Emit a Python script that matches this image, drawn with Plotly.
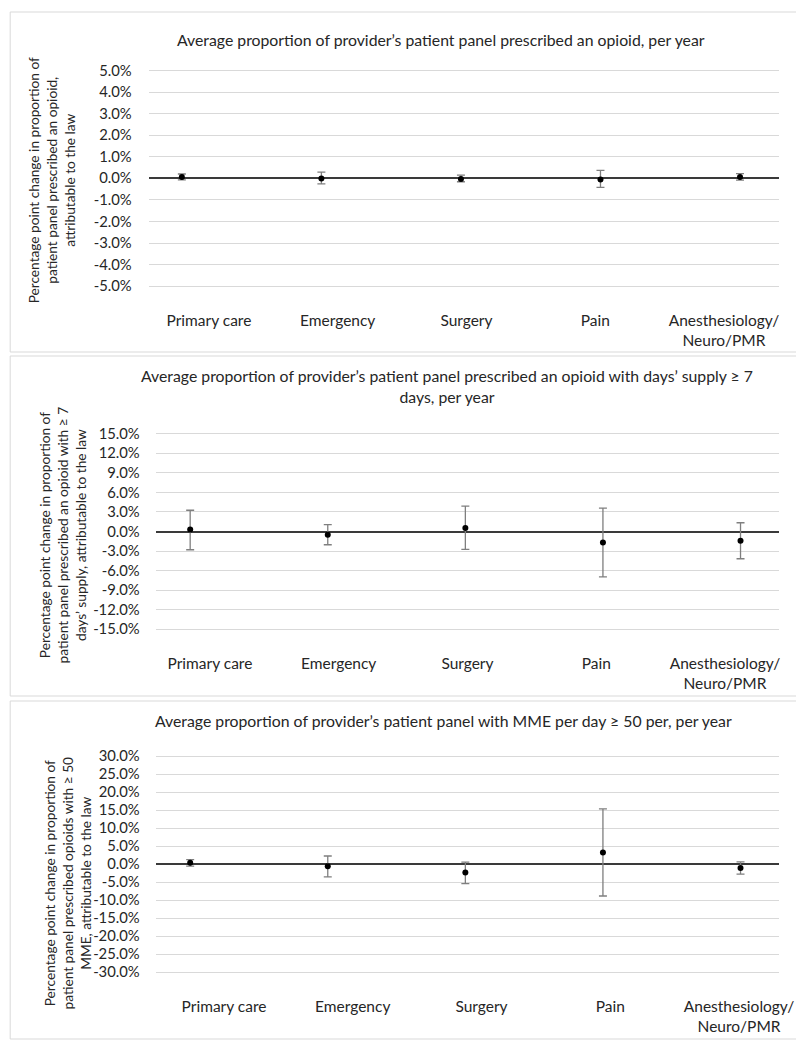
import plotly.graph_objects as go

# The page body has an 8px margin; the screenshot is compressed horizontally
# by about 0.979, so horizontal layout positions are stretched by K.
OFF = 8
K = 1.0215
W, H = 813, 1050 - 2 * OFF

categories = ["Primary care", "Emergency", "Surgery", "Pain", "Anesthesiology/<br>Neuro/PMR"]

# Panel 1: any opioid (percentage points)
p1_est = [0.06, -0.01, -0.03, -0.05, 0.06]
p1_low = [-0.07, -0.26, -0.16, -0.42, -0.08]
p1_high = [0.20, 0.29, 0.15, 0.37, 0.22]
p1_ticks = [5.0, 4.0, 3.0, 2.0, 1.0, 0.0, -1.0, -2.0, -3.0, -4.0, -5.0]

# Panel 2: days' supply >= 7
p2_est = [0.30, -0.50, 0.55, -1.68, -1.40]
p2_low = [-2.80, -2.03, -2.75, -6.97, -4.18]
p2_high = [3.26, 1.04, 3.90, 3.60, 1.34]
p2_ticks = [15.0, 12.0, 9.0, 6.0, 3.0, 0.0, -3.0, -6.0, -9.0, -12.0, -15.0]

# Panel 3: MME per day >= 50
p3_est = [0.42, -0.51, -2.31, 3.28, -1.02]
p3_low = [-0.51, -3.52, -5.37, -8.80, -2.73]
p3_high = [1.30, 2.31, 0.60, 15.37, 0.65]
p3_ticks = [30.0, 25.0, 20.0, 15.0, 10.0, 5.0, 0.0, -5.0, -10.0, -15.0, -20.0, -25.0, -30.0]

titles = [
    "Average proportion of provider\u2019s patient panel prescribed an opioid, per year",
    "Average proportion of provider\u2019s patient panel prescribed an opioid with days\u2019 supply \u2265 7<br>days, per year",
    "Average proportion of provider\u2019s patient panel with MME per day \u2265 50 per, per year",
]
ytitles = [
    "Percentage point change in proportion of<br>patient panel prescribed an opioid,<br>attributable to the law",
    "Percentage point change in proportion of<br>patient panel prescribed an opioid with \u2265 7<br>days\u2019 supply, attributable to the law",
    "Percentage point change in proportion of<br>patient panel prescribed opioids with \u2265 50<br>MME, attributable to the law",
]

FONT = "Lato, 'Liberation Sans Narrow', 'Open Sans', sans-serif"
TXT = "#262626"


def px(x):
    return (x * K - OFF) / W


def py(y):
    return 1 - (y - OFF) / H


# layout geometry per panel (target screen pixels)
panels = [
    dict(est=p1_est, low=p1_low, high=p1_high, ticks=p1_ticks, rng=5.5, zero=178.3, ppu=21.57,
         xl=148, xr=776, pt_left=181, pt_right=737, lab_left=208, lab_right=721, lab_y=309.5,
         box=(10, 12, 794, 352), title_xy=(439, 39.5), ytitle_xy=(52, 180), standoff=16),
    dict(est=p2_est, low=p2_low, high=p2_high, ticks=p2_ticks, rng=16.5, zero=531.5, ppu=6.52,
         xl=155, xr=776, pt_left=189.3, pt_right=737.5, lab_left=209, lab_right=722, lab_y=652.5,
         box=(10, 356, 794, 696), title_xy=(445, 386), ytitle_xy=(62, 535), standoff=15),
    dict(est=p3_est, low=p3_low, high=p3_high, ticks=p3_ticks, rng=33, zero=864.3, ppu=3.6,
         xl=155, xr=776, pt_left=189.3, pt_right=737.5, lab_left=223, lab_right=736, lab_y=995.5,
         box=(10, 701, 794, 1039), title_xy=(442, 720.5), ytitle_xy=(67, 883), standoff=15),
]

fig = go.Figure()
layout = dict(width=W, height=H, margin=dict(l=0, r=0, t=0, b=0),
              paper_bgcolor="white", plot_bgcolor="white", showlegend=False,
              font=dict(family=FONT, size=15, color=TXT))
shapes = []
annotations = []

for i, p in enumerate(panels):
    n = i + 1
    xa = "x" if n == 1 else f"x{n}"
    ya = "y" if n == 1 else f"y{n}"
    la_n = n + 3
    la = f"x{la_n}"
    err_plus = [h - e for h, e in zip(p["high"], p["est"])]
    err_minus = [e - l for e, l in zip(p["est"], p["low"])]
    fig.add_trace(go.Scatter(
        x=categories, y=p["est"], xaxis=xa, yaxis=ya, mode="markers",
        marker=dict(color="black", size=6),
        error_y=dict(type="data", symmetric=False, array=err_plus, arrayminus=err_minus,
                     color="#7f7f7f", thickness=1.3, width=4),
        hoverinfo="skip"))
    # invisible trace to register categories on the label axis
    fig.add_trace(go.Scatter(x=categories, y=[0] * len(categories), xaxis=la, yaxis=ya,
                             mode="markers", marker=dict(opacity=0), hoverinfo="skip"))

    top = p["zero"] - p["rng"] * p["ppu"]
    bot = p["zero"] + p["rng"] * p["ppu"]
    dom_x = [px(p["xl"]), px(p["xr"])]
    dom_y = [py(bot), py(top)]
    pt_unit = (p["pt_right"] - p["pt_left"]) / 4
    pr0 = -(p["pt_left"] - p["xl"]) / pt_unit
    pr1 = 4 + (p["xr"] - p["pt_right"]) / pt_unit
    layout["xaxis" if n == 1 else f"xaxis{n}"] = dict(
        domain=dom_x, anchor=ya, type="category", range=[pr0, pr1],
        showticklabels=False, ticks="", showgrid=False, zeroline=False, showline=False)
    layout["yaxis" if n == 1 else f"yaxis{n}"] = dict(
        domain=dom_y, anchor=xa, range=[-p["rng"], p["rng"]],
        tickvals=p["ticks"], ticktext=[f"{v:.1f}%" for v in p["ticks"]],
        showgrid=True, gridcolor="#d9d9d9", gridwidth=1,
        zeroline=True, zerolinecolor="#3a3a3a", zerolinewidth=1.6,
        showline=False, ticks="", ticklabelstandoff=p["standoff"],
        tickfont=dict(family=FONT, size=14.8, color=TXT))
    spacing = (p["lab_right"] - p["lab_left"]) / 4
    lr0 = -(p["lab_left"] - p["xl"]) / spacing
    lr1 = 4 + (p["xr"] - p["lab_right"]) / spacing
    layout[f"xaxis{la_n}"] = dict(
        overlaying=xa, anchor="free", position=py(p["lab_y"]), side="bottom",
        type="category", range=[lr0, lr1], ticks="", showgrid=False, zeroline=False,
        showline=False, tickfont=dict(family=FONT, size=15.5, color=TXT))

    x0, y0, x1, y1 = p["box"]
    shapes.append(dict(type="rect", xref="paper", yref="paper", x0=px(x0), x1=px(x1),
                       y0=py(y1), y1=py(y0), line=dict(color="#d9d9d9", width=1),
                       fillcolor="rgba(0,0,0,0)", layer="below"))
    tx, ty = p["title_xy"]
    annotations.append(dict(text=titles[i], x=px(tx), y=py(ty), xref="paper", yref="paper",
                            showarrow=False, xanchor="center", yanchor="middle",
                            font=dict(family=FONT, size=15.8, color=TXT)))
    yx, yy = p["ytitle_xy"]
    annotations.append(dict(text=ytitles[i], x=px(yx), y=py(yy), xref="paper", yref="paper",
                            showarrow=False, xanchor="center", yanchor="middle", textangle=-90,
                            font=dict(family=FONT, size=13.7, color=TXT)))

layout["shapes"] = shapes
layout["annotations"] = annotations
fig.update_layout(**layout)
fig.write_html("out.html")
